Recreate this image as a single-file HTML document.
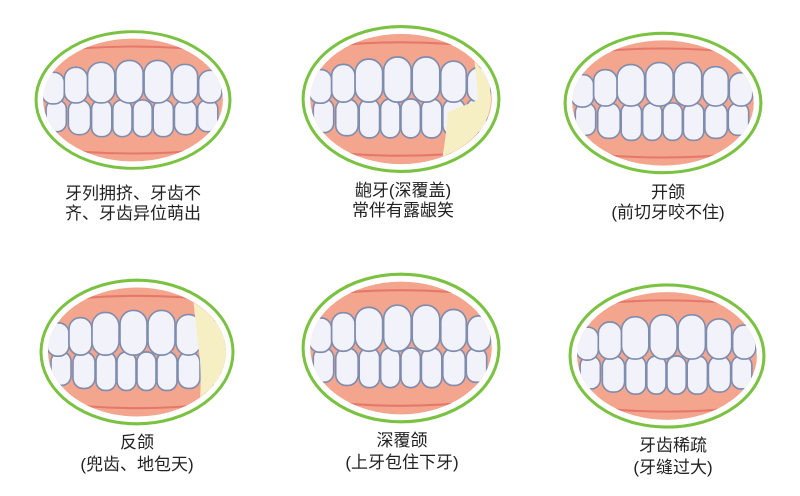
<!DOCTYPE html>
<html><head><meta charset="utf-8"><style>
body{margin:0;background:#fff;width:800px;height:496px;overflow:hidden}
svg{position:absolute;left:0;top:0}
.t{font-family:"Liberation Sans","Noto Sans CJK SC",sans-serif;font-size:17px;fill:#222;text-anchor:middle}
</style></head><body>
<svg width="800" height="496" viewBox="0 0 800 496">
<defs>
<clipPath id="c"><ellipse cx="0" cy="0" rx="89" ry="62"/></clipPath>
<clipPath id="c2"><ellipse cx="401" cy="99" rx="90" ry="65"/></clipPath>
<clipPath id="c4"><ellipse cx="137" cy="352" rx="89" ry="64"/></clipPath>
<g id="m">
 <ellipse cx="0" cy="0" rx="96" ry="69" fill="#fff" stroke="#7cc242" stroke-width="3"/>
 <g clip-path="url(#c)">
  <rect x="-92" y="-64" width="184" height="128" fill="#f3a58e"/>
  <path d="M-92,-48 Q0,-60 92,-48" stroke="#e5786a" fill="none" stroke-width="2"/>
  <path d="M-92,48 Q0,60 92,48" stroke="#e5786a" fill="none" stroke-width="2"/>
  <g fill="#f2f3fa" stroke="#7f8cae" stroke-width="1.6">
   <rect x="-86" y="0" width="20" height="32" rx="9"/>
   <rect x="-64" y="0" width="22" height="35" rx="10"/>
   <rect x="-41" y="0" width="20" height="37" rx="9"/>
   <rect x="-20" y="0" width="19" height="37" rx="9"/>
   <rect x="0" y="0" width="19" height="37" rx="9"/>
   <rect x="20" y="0" width="20" height="37" rx="9"/>
   <rect x="41" y="0" width="22" height="35" rx="10"/>
   <rect x="64" y="0" width="20" height="32" rx="9"/>
   <rect x="-90" y="-28" width="22" height="32" rx="10"/>
   <rect x="-68" y="-33" width="23" height="36" rx="11"/>
   <rect x="-45" y="-38" width="27" height="41" rx="13"/>
   <rect x="-17" y="-40" width="27" height="43" rx="13"/>
   <rect x="11" y="-40" width="27" height="43" rx="13"/>
   <rect x="39" y="-36" width="25" height="39" rx="12"/>
   <rect x="65" y="-30" width="23" height="33" rx="11"/>
  </g>
 </g>
</g>
</defs>
<use href="#m" transform="translate(133,100) scale(1.01,0.99)"/>
<use href="#m" transform="translate(401,99) scale(1.02,1.05)"/>
<use href="#m" transform="translate(663,103) scale(1.02,1.01)"/>
<use href="#m" transform="translate(137,352) scale(1,1.04)"/>
<use href="#m" transform="translate(401,348) scale(1.02,1.07)"/>
<use href="#m" transform="translate(667,356) scale(1.01,1.03)"/>
<g clip-path="url(#c2)">
<path d="M468,30 Q476,60 478,100 L448,112 Q446,140 440,170 L500,170 L500,30 Z" fill="#f6efc4"/>
</g>
<g clip-path="url(#c4)">
<path d="M192,285 Q196,330 200,360 Q202,390 198,420 L240,420 L240,285 Z" fill="#f6efc4"/>
</g>
<text class="t" x="133" y="199">牙列拥挤、牙齿不</text>
<text class="t" x="133" y="219">齐、牙齿异位萌出</text>
<text class="t" x="403" y="196">龅牙(深覆盖)</text>
<text class="t" x="403" y="216">常伴有露龈笑</text>
<text class="t" x="668" y="198">开颌</text>
<text class="t" x="668" y="218">(前切牙咬不住)</text>
<text class="t" x="137" y="448">反颌</text>
<text class="t" x="137" y="470">(兜齿、地包天)</text>
<text class="t" x="402" y="446">深覆颌</text>
<text class="t" x="402" y="468">(上牙包住下牙)</text>
<text class="t" x="673" y="451">牙齿稀疏</text>
<text class="t" x="673" y="473">(牙缝过大)</text>
</svg>
</body></html>
